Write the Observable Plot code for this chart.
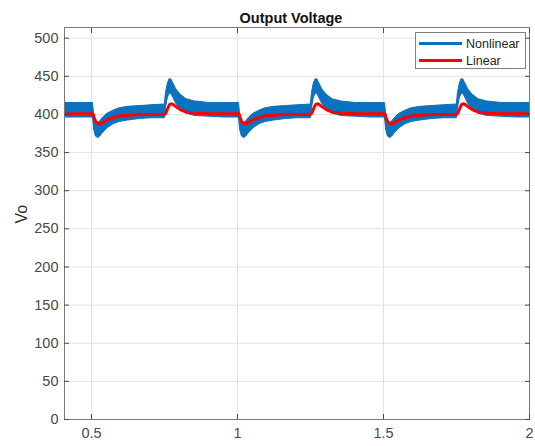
<!DOCTYPE html>
<html>
<head>
<meta charset="utf-8">
<script src="https://cdn.jsdelivr.net/npm/d3@7"></script>
<script src="https://cdn.jsdelivr.net/npm/@observablehq/plot@0.6"></script>
<style>
  html, body { margin: 0; padding: 0; background: #fff; }
  #wrap { position: relative; width: 535px; height: 446px; font-family: "Liberation Sans", Arial, sans-serif; }
  #legend { position: absolute; left: 415px; top: 32px; width: 111px; height: 37px; background: #fff; border: 1px solid #808080; box-sizing: border-box; }
  .lg { position: absolute; left: 3px; height: 17px; display: flex; align-items: center; font-size: 12.5px; color: #262626; }
  .sw { width: 43px; margin-right: 4px; }
</style>
</head>
<body>
<div id="wrap">
  <div id="chart"></div>
  <div id="legend">
    <div class="lg" style="top:2px"><div class="sw" style="height:3px;background:#0a72bf"></div>Nonlinear</div>
    <div class="lg" style="top:19px"><div class="sw" style="height:3px;background:#ff0000"></div>Linear</div>
  </div>
</div>
<script>
// ----- data -----
const titleText = "Output Voltage";
const yLabelText = "Vo";
const seriesNames = ["Nonlinear", "Linear"];
const xTicks = [0.5, 1, 1.5, 2];
const xTickLabels = ["0.5", "1", "1.5", "2"];
const yTicks = [0, 50, 100, 150, 200, 250, 300, 350, 400, 450, 500];

// start time of each load-step cycle (s)
const cycleStarts = [0.505, 1.005, 1.505];
// time offsets inside one cycle (s)
const tau = [0, 0.004, 0.010, 0.018, 0.025, 0.035, 0.05, 0.07, 0.09, 0.12, 0.16, 0.2, 0.246,
             0.250, 0.256, 0.262, 0.268, 0.275, 0.285, 0.30, 0.32, 0.35, 0.40, 0.45, 0.4995];
// nonlinear controller: ripple band (upper / lower envelope), V
const nonlinearUpper = [415, 400, 390, 389, 391, 396, 401, 405, 408, 410, 411, 412, 413,
                        428, 440, 446, 446, 441, 433, 426, 420, 417, 415, 415, 415];
const nonlinearLower = [396, 380, 371, 369, 371, 376, 382, 387, 390, 392, 394, 395, 395,
                        408, 421, 427, 427, 422, 414, 407, 401, 398, 397, 396, 396];
// linear controller, V
const linearV = [401, 396, 390, 388, 388, 390, 393, 396, 398, 399, 400, 400, 400,
                 402, 408, 413, 414, 413, 410, 406, 403, 401.5, 401, 401, 401];
// steady values before the first step
const steadyStart = {t: 0.40, hi: 415, lo: 396, lin: 401};

const rows = [steadyStart];
for (const s of cycleStarts) {
  tau.forEach((d, i) => rows.push({t: s + d, hi: nonlinearUpper[i], lo: nonlinearLower[i], lin: linearV[i]}));
}

const fmtX = d => xTickLabels[xTicks.indexOf(d)];

const chart = Plot.plot({
  width: 535,
  height: 446,
  marginLeft: 64,
  marginRight: 6,
  marginTop: 27,
  marginBottom: 27,
  style: {fontFamily: "'Liberation Sans', Arial, sans-serif", fontSize: "13px", color: "#4a4a4a", background: "#fff"},
  x: {domain: [0.4075, 2]},
  y: {domain: [0, 514]},
  marks: [
    Plot.gridX(xTicks, {stroke: "#e3e3e3", strokeOpacity: 1}),
    Plot.gridY(yTicks, {stroke: "#e3e3e3", strokeOpacity: 1}),
    Plot.areaY(rows, {x: "t", y1: "lo", y2: "hi", fill: "#0a72bf", stroke: "#0a72bf", strokeWidth: 1, clip: true}),
    Plot.lineY(rows, {x: "t", y: "lin", stroke: "#ff0000", strokeWidth: 3, clip: true}),
    Plot.frame({stroke: "#7a7a7a"}),
    Plot.axisX({ticks: xTicks, tickFormat: fmtX, tickSize: -5, tickPadding: 13, label: null, fontSize: 14.5}),
    Plot.axisX({ticks: xTicks, anchor: "top", tickFormat: () => "", tickSize: -5, label: null}),
    Plot.axisY({ticks: yTicks, tickSize: -5, tickPadding: 11, label: null, fontSize: 14.5}),
    Plot.axisY({ticks: yTicks, anchor: "right", tickFormat: () => "", tickSize: -5, label: null}),
    Plot.text([titleText], {text: d => d, frameAnchor: "top", dy: -15, dx: -6, fontWeight: "bold", fontSize: 14.5, fill: "#111"}),
    Plot.text([yLabelText], {text: d => d, frameAnchor: "left", dx: -43, rotate: -90, fontSize: 16, fill: "#333"})
  ]
});
document.getElementById("chart").appendChild(chart);
</script>
</body>
</html>
